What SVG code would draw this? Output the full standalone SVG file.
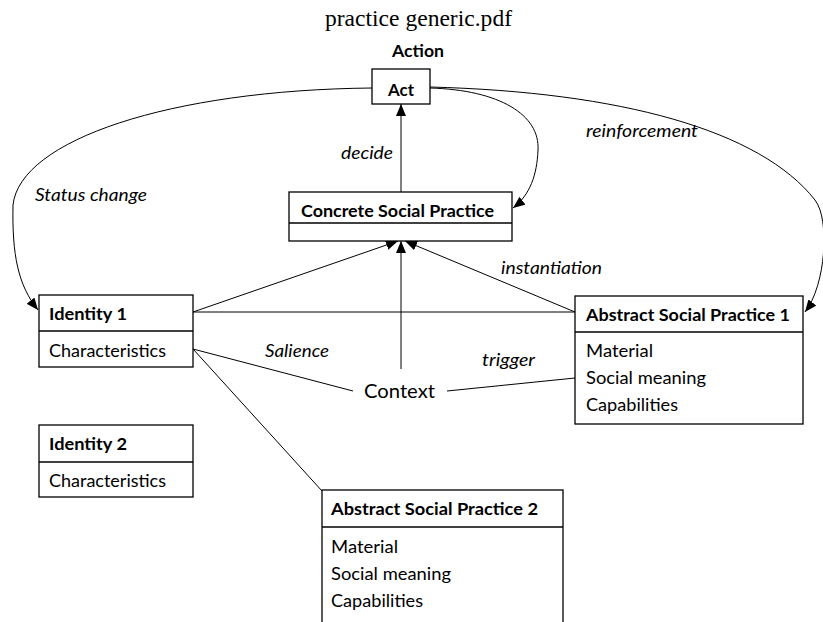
<svg xmlns="http://www.w3.org/2000/svg" width="823" height="622" viewBox="0 0 823 622">
  <style>
    .box { fill: #fff; stroke: #000; stroke-width: 1.3; }
    .div { stroke: #000; stroke-width: 1.6; }
    .t { font-family: Lato, "Liberation Sans", sans-serif; font-size: 17.7px; fill: #000; }
    .b { font-weight: bold; }
    .i { font-style: italic; }
    .edge { fill: none; stroke: #000; stroke-width: 1; }
  </style>
  <defs>
    <marker id="arrow" viewBox="0 0 12 10" refX="12" refY="5" markerWidth="12" markerHeight="10" orient="auto" markerUnits="userSpaceOnUse">
      <path d="M0,0 L12,5 L0,10 z" fill="#000"/>
    </marker>
  </defs>

  <rect width="823" height="622" fill="#fff"/>

  <text x="325" y="26" font-family="'Liberation Serif', serif" font-size="23.5" textLength="187" lengthAdjust="spacingAndGlyphs">practice generic.pdf</text>
  <text class="t b" x="392" y="57" textLength="52" lengthAdjust="spacingAndGlyphs">Action</text>

  <!-- connectors -->
  <g id="connectors">
    <path class="edge" d="M401,192 L401,104" marker-end="url(#arrow)"/>
    <path class="edge" d="M372,88 C170,90 20,140 13,205 C12,255 18,285 38,310" marker-end="url(#arrow)"/>
    <path class="edge" d="M430,88 C500,90 540,115 538,150 C537,175 530,195 513,208" marker-end="url(#arrow)"/>
    <path class="edge" d="M430,87 C620,92 760,130 815,200 C830,219 826,285 805,312" marker-end="url(#arrow)"/>
    <path class="edge" d="M193,312 L398,241" marker-end="url(#arrow)"/>
    <path class="edge" d="M193,312 L575,312"/>
    <path class="edge" d="M575,312 L405,241" marker-end="url(#arrow)"/>
    <path class="edge" d="M401,369 L401,241" marker-end="url(#arrow)"/>
    <path class="edge" d="M193,349 L353,391"/>
    <path class="edge" d="M447,391 L575,378"/>
    <path class="edge" d="M193,349 L322,491"/>

    <text class="t i" x="341" y="159" textLength="52" lengthAdjust="spacingAndGlyphs">decide</text>
    <text class="t i" x="35" y="201" textLength="112" lengthAdjust="spacingAndGlyphs">Status change</text>
    <text class="t i" x="586" y="137" textLength="112" lengthAdjust="spacingAndGlyphs">reinforcement</text>
    <text class="t i" x="501" y="274" textLength="101" lengthAdjust="spacingAndGlyphs">instantiation</text>
    <text class="t i" x="265" y="357" textLength="64" lengthAdjust="spacingAndGlyphs">Salience</text>
    <text class="t i" x="482" y="366" textLength="53" lengthAdjust="spacingAndGlyphs">trigger</text>
  </g>

  <g id="act">
    <rect class="box" x="372" y="69" width="58" height="35"/>
    <text class="t b" x="388" y="96" textLength="26" lengthAdjust="spacingAndGlyphs">Act</text>
  </g>

  <g id="concrete-social-practice">
    <rect class="box" x="289" y="192" width="223" height="49"/>
    <line class="div" x1="289" y1="223" x2="512" y2="223"/>
    <text class="t b" x="301" y="217" textLength="193" lengthAdjust="spacingAndGlyphs">Concrete Social Practice</text>
  </g>

  <g id="identity-1">
    <rect class="box" x="39" y="295" width="154" height="72"/>
    <line class="div" x1="39" y1="331" x2="193" y2="331"/>
    <text class="t b" x="49" y="320" textLength="78" lengthAdjust="spacingAndGlyphs">Identity 1</text>
    <text class="t" x="49" y="357" textLength="117" lengthAdjust="spacingAndGlyphs">Characteristics</text>
  </g>

  <g id="identity-2">
    <rect class="box" x="39" y="425" width="154" height="72"/>
    <line class="div" x1="39" y1="462" x2="193" y2="462"/>
    <text class="t b" x="49" y="450" textLength="78" lengthAdjust="spacingAndGlyphs">Identity 2</text>
    <text class="t" x="49" y="487" textLength="117" lengthAdjust="spacingAndGlyphs">Characteristics</text>
  </g>

  <g id="abstract-social-practice-1">
    <rect class="box" x="575" y="296" width="228" height="128"/>
    <line class="div" x1="575" y1="332" x2="803" y2="332"/>
    <text class="t b" x="586" y="321" textLength="204" lengthAdjust="spacingAndGlyphs">Abstract Social Practice 1</text>
    <text class="t" x="586" y="357" textLength="67" lengthAdjust="spacingAndGlyphs">Material</text>
    <text class="t" x="586" y="384" textLength="120" lengthAdjust="spacingAndGlyphs">Social meaning</text>
    <text class="t" x="586" y="411" textLength="92" lengthAdjust="spacingAndGlyphs">Capabilities</text>
  </g>

  <g id="abstract-social-practice-2">
    <rect class="box" x="322" y="490" width="241" height="150"/>
    <line class="div" x1="322" y1="527" x2="563" y2="527"/>
    <text class="t b" x="331" y="515" textLength="207" lengthAdjust="spacingAndGlyphs">Abstract Social Practice 2</text>
    <text class="t" x="331" y="553" textLength="67" lengthAdjust="spacingAndGlyphs">Material</text>
    <text class="t" x="331" y="580" textLength="120" lengthAdjust="spacingAndGlyphs">Social meaning</text>
    <text class="t" x="331" y="607" textLength="92" lengthAdjust="spacingAndGlyphs">Capabilities</text>
  </g>

  <g id="context">
    <text class="t" x="364" y="398" font-size="19.5" style="font-size:19.5px" textLength="71" lengthAdjust="spacingAndGlyphs">Context</text>
  </g>
</svg>
